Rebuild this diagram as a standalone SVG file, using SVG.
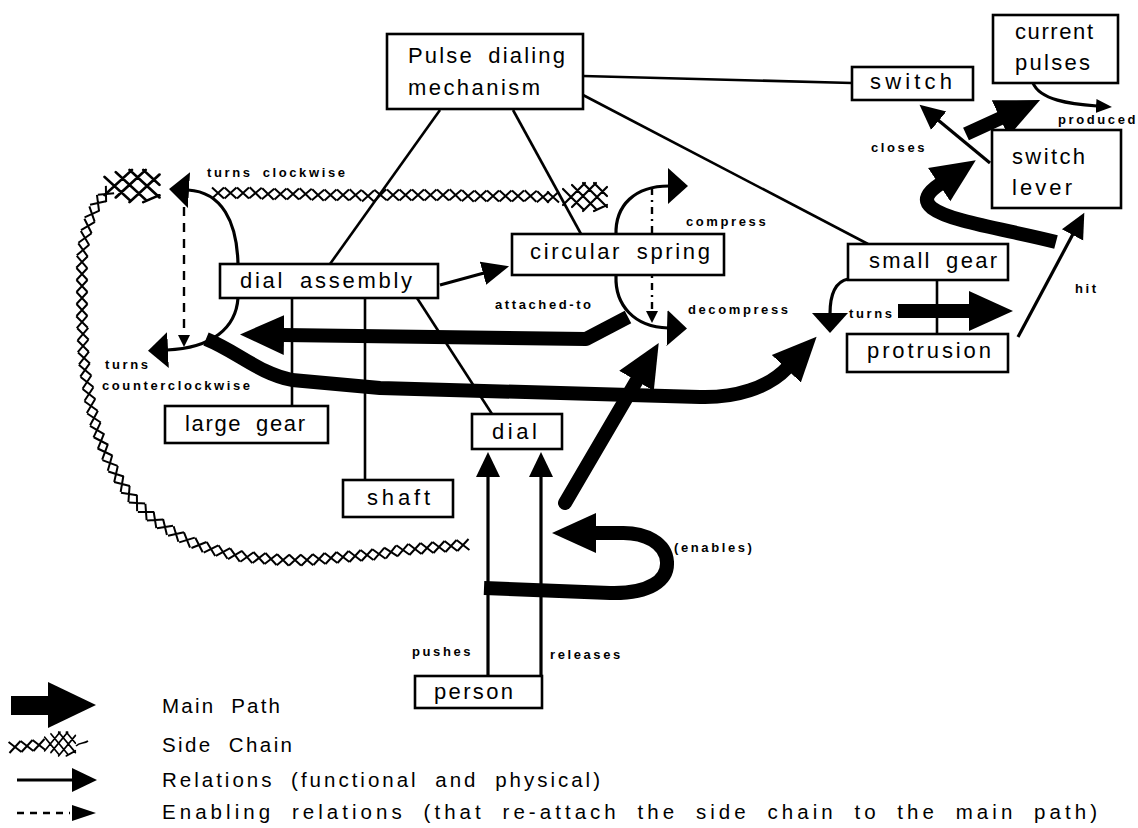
<svg xmlns="http://www.w3.org/2000/svg" xmlns:xlink="http://www.w3.org/1999/xlink" width="1138" height="828" viewBox="0 0 1138 828">
  <style>
    .box { fill: #fff; stroke: #000; stroke-width: 2.6; }
    .lbl { font-family: "Liberation Sans", Arial, sans-serif; font-size: 22px; word-spacing: 6px; fill: #000; }
    .sm { font-family: "Liberation Sans", Arial, sans-serif; font-size: 13px; font-weight: bold; letter-spacing: 2.6px; word-spacing: 4px; fill: #000; }
    .leg { font-family: "Liberation Sans", Arial, sans-serif; font-size: 20.5px; word-spacing: 8px; fill: #000; }
    .link { fill: none; stroke: #000; stroke-width: 2.6; }
    .rel { fill: none; stroke: #000; stroke-width: 3.2; }
    .main { fill: none; stroke: #000; stroke-width: 14; stroke-linejoin: round; }
    .enab { fill: none; stroke: #000; stroke-width: 2.4; }
    .chain { fill: none; stroke: none; }
    .net { fill: none; stroke: #000; stroke-width: 2.2; stroke-linecap: round; }
  </style>
  <defs>
    <marker id="mainHead" markerUnits="userSpaceOnUse" viewBox="0 -21 46 42" markerWidth="46" markerHeight="42" refX="1" refY="0" orient="auto">
      <path d="M0,-20 L44,0 L0,20 z" fill="#000"/>
    </marker>
    <marker id="medHead" markerUnits="userSpaceOnUse" viewBox="0 -13 28 26" markerWidth="28" markerHeight="26" refX="1" refY="0" orient="auto">
      <path d="M0,-12 L27,0 L0,12 z" fill="#000"/>
    </marker>
    <marker id="relHead" markerUnits="userSpaceOnUse" viewBox="0 -13 26 26" markerWidth="26" markerHeight="26" refX="1" refY="0" orient="auto">
      <path d="M0,-12 L25,0 L0,12 z" fill="#000"/>
    </marker>
    <marker id="flatHead" markerUnits="userSpaceOnUse" viewBox="0 -19 21 38" markerWidth="21" markerHeight="38" refX="1" refY="0" orient="auto">
      <path d="M0,-18 L20,0 L0,18 z" fill="#000"/>
    </marker>
    <marker id="smallHead" markerUnits="userSpaceOnUse" viewBox="0 -8 17 16" markerWidth="17" markerHeight="16" refX="1" refY="0" orient="auto">
      <path d="M0,-7 L16,0 L0,7 z" fill="#000"/>
    </marker>
    <marker id="enHead" markerUnits="userSpaceOnUse" viewBox="0 -7 13 14" markerWidth="13" markerHeight="14" refX="1" refY="0" orient="auto">
      <path d="M0,-6 L12,0 L0,6 z" fill="#000"/>
    </marker>
    <!-- one link of the side chain: a small cross placed at every vertex -->
    <marker id="xMark" markerUnits="userSpaceOnUse" viewBox="-8 -7 16 14" markerWidth="16" markerHeight="14" refX="0" refY="0" orient="auto">
      <path d="M-6,-5.5 L6,5.5 M-6,5.5 L6,-5.5" fill="none" stroke="#000" stroke-width="2"/>
    </marker>
    <!-- diamond mesh knot of the side chain -->
    <g id="net" class="net">
      <path d="M0,-14 L-22,8 M11,-14 L-13,10 M22,-10 L-2,14 M22,8 L9,14 M-22,-8 L-2,12 M-13,-12 L11,12 M-2,-14 L22,10 M9,-14 L22,-1"/>
    </g>
  </defs>

  <rect width="1138" height="828" fill="#fff"/>

  <!-- side chain -->
  <g id="side-chain">
    <polyline class="chain" marker-start="url(#xMark)" marker-mid="url(#xMark)" marker-end="url(#xMark)"
      points="218,193 230.5,193 243,193 255.5,193 268,194 280.5,194 293,194 305.5,194 318,195 330.5,195 343,195 355.5,195 368,196 380.5,195 393,195 405.5,195 418,195 430.5,195 443,195 455.5,195 468,196 480.5,196 493,196 505.5,196 518,196 530.5,196 543,197 553,197"/>
    <polyline class="chain" marker-start="url(#xMark)" marker-mid="url(#xMark)" marker-end="url(#xMark)"
      points="463,545 451,546 439,547 427,548 415,549 403,550 391,552 379,554 367,555 355,556 343,557 331,558 319,559 307,560 295,560 283,560 271,559 259,558 247,557 235,555 223,552 211,549 199,545 187,540 176,534 165,527 155,520 146,512 137,503 129,494 122,484 116,474 110,463 105,452 101,441 97,430 94,418 91,406 89,394 87,382 85,370 84,358 83,346 83,334 82,322 82,310 82,298 82,286 82,274 82,262 83,250 85,238 88,226 92,214 98,203 106,194"/>
    <use xlink:href="#net" href="#net" transform="translate(132,186) scale(1.25,1.15)"/>
    <use xlink:href="#net" href="#net" transform="translate(585,197)"/>
  </g>

  <!-- connectors -->
  <g id="connectors">
    <!-- structural links -->
    <path class="link" d="M440,110 L330,264"/>
    <path class="link" d="M513,110 L581,234"/>
    <path class="link" d="M583,76 L852,83"/>
    <path class="link" d="M583,95 L868,244"/>
    <path class="link" d="M292,298 L292,406"/>
    <path class="link" d="M365,298 L365,480"/>
    <path class="link" d="M417,298 L492,414"/>
    <path class="link" d="M937,280 L937,334"/>

    <!-- enabling relations -->
    <path class="enab" d="M184,207 L184,336" stroke-dasharray="9 7" marker-end="url(#enHead)"/>
    <path class="enab" d="M652,188 L652,312" stroke-dasharray="7 5 2 5" marker-end="url(#enHead)"/>

    <!-- functional / physical relations -->
    <path class="rel" d="M238,264 C237,222 222,192 188,190" marker-end="url(#flatHead)"/>
    <path class="rel" d="M238,298 C236,328 212,348 167,350" marker-end="url(#flatHead)"/>
    <path class="rel" d="M616,235 C615,205 635,186 669,186" marker-end="url(#flatHead)"/>
    <path class="rel" d="M616,276 C615,305 634,327 668,328" marker-end="url(#flatHead)"/>
    <path class="rel" d="M848,279 C834,282 830,296 830,314" marker-end="url(#flatHead)"/>
    <path class="rel" d="M990,163 L938,120" marker-end="url(#relHead)"/>
    <path class="rel" d="M1018,337 L1073,234" marker-end="url(#relHead)"/>
    <path class="rel" d="M1033,83 C1040,100 1070,104 1097,106" marker-end="url(#smallHead)"/>
    <path class="rel" d="M488,676 L488,476" stroke-width="3.6" marker-end="url(#relHead)"/>
    <path class="rel" d="M541,676 L541,476" stroke-width="3.6" marker-end="url(#relHead)"/>
    <path class="rel" d="M440,285 L484,273" stroke-width="6" marker-end="url(#medHead)"/>

    <!-- main path -->
    <path class="main" d="M206,339 C238,352 258,373 292,380 L380,388 L700,397 C735,398 768,388 787,368" marker-end="url(#mainHead)"/>
    <path class="main" d="M628,317 L586,339 L283,335" stroke-width="15" marker-end="url(#mainHead)"/>
    <path class="main" d="M565,503 L637,380" stroke-width="15" stroke-linecap="round" marker-end="url(#mainHead)"/>
    <path class="main" d="M484,588 L610,593 C650,594 668,580 667,562 C666,543 645,532 620,533 L595,533" stroke-width="12" marker-end="url(#mainHead)"/>
    <path class="main" d="M898,311 L970,311" stroke-width="13" marker-end="url(#mainHead)"/>
    <path class="main" d="M1056,242 C1010,230 950,222 932,208 C922,200 928,192 940,184" marker-end="url(#mainHead)"/>
    <path class="main" d="M966,134 L1001,118" stroke-width="13" marker-end="url(#mainHead)"/>
  </g>

  <!-- nodes -->
  <g id="pulse-dialing-mechanism">
    <rect class="box" x="387" y="34" width="196" height="75"/>
    <text class="lbl" x="408" y="63" textLength="157" lengthAdjust="spacing">Pulse dialing</text>
    <text class="lbl" x="408" y="95" textLength="132" lengthAdjust="spacing">mechanism</text>
  </g>
  <g id="switch">
    <rect class="box" x="852" y="67" width="121" height="33"/>
    <text class="lbl" x="870" y="89" textLength="82" lengthAdjust="spacing">switch</text>
  </g>
  <g id="current-pulses">
    <rect class="box" x="993" y="15" width="125" height="68"/>
    <text class="lbl" x="1015" y="39" textLength="78" lengthAdjust="spacing">current</text>
    <text class="lbl" x="1015" y="70" textLength="75" lengthAdjust="spacing">pulses</text>
  </g>
  <g id="switch-lever">
    <rect class="box" x="992" y="130" width="129" height="78"/>
    <text class="lbl" x="1012" y="164" textLength="73" lengthAdjust="spacing">switch</text>
    <text class="lbl" x="1012" y="195" textLength="60" lengthAdjust="spacing">lever</text>
  </g>
  <g id="small-gear">
    <rect class="box" x="848" y="244" width="160" height="36"/>
    <text class="lbl" x="869" y="268" textLength="128" lengthAdjust="spacing">small gear</text>
  </g>
  <g id="protrusion">
    <rect class="box" x="847" y="334" width="161" height="38"/>
    <text class="lbl" x="867" y="358" textLength="124" lengthAdjust="spacing">protrusion</text>
  </g>
  <g id="circular-spring">
    <rect class="box" x="512" y="234" width="212" height="41"/>
    <text class="lbl" x="530" y="259" textLength="180" lengthAdjust="spacing">circular spring</text>
  </g>
  <g id="dial-assembly">
    <rect class="box" x="220" y="264" width="218" height="34"/>
    <text class="lbl" x="240" y="288" textLength="172" lengthAdjust="spacing">dial assembly</text>
  </g>
  <g id="large-gear">
    <rect class="box" x="165" y="406" width="163" height="37"/>
    <text class="lbl" x="185" y="431" textLength="120" lengthAdjust="spacing">large gear</text>
  </g>
  <g id="shaft">
    <rect class="box" x="343" y="480" width="110" height="37"/>
    <text class="lbl" x="367" y="505" textLength="63" lengthAdjust="spacing">shaft</text>
  </g>
  <g id="dial">
    <rect class="box" x="472" y="414" width="90" height="35"/>
    <text class="lbl" x="492" y="439" textLength="45" lengthAdjust="spacing">dial</text>
  </g>
  <g id="person">
    <rect class="box" x="415" y="676" width="127" height="32"/>
    <text class="lbl" x="434" y="699" textLength="79" lengthAdjust="spacing">person</text>
  </g>

  <!-- relation labels -->
  <g id="relation-labels">
    <text class="sm" x="207" y="177">turns clockwise</text>
    <text class="sm" x="105" y="369">turns</text>
    <text class="sm" x="102" y="390">counterclockwise</text>
    <text class="sm" x="686" y="226">compress</text>
    <text class="sm" x="688" y="314">decompress</text>
    <text class="sm" x="495" y="309">attached-to</text>
    <text class="sm" x="849" y="318">turns</text>
    <text class="sm" x="871" y="152">closes</text>
    <text class="sm" x="1058" y="124">produced</text>
    <text class="sm" x="1075" y="293">hit</text>
    <text class="sm" x="674" y="552">(enables)</text>
    <text class="sm" x="412" y="656">pushes</text>
    <text class="sm" x="550" y="659">releases</text>
  </g>

  <!-- legend -->
  <g id="legend">
    <rect x="11" y="696" width="40" height="19" fill="#000"/>
    <path d="M48,682 L96,705 L48,728 z" fill="#000"/>
    <text class="leg" x="162" y="713" textLength="118" lengthAdjust="spacing">Main Path</text>

    <polyline class="chain" marker-start="url(#xMark)" marker-mid="url(#xMark)" marker-end="url(#xMark)" points="15,747 27,746 39,745"/>
    <use xlink:href="#net" href="#net" transform="translate(60,744) scale(0.7,0.85)"/>
    <path d="M76,746 C80,742 84,744 88,741" fill="none" stroke="#000" stroke-width="1.6"/>
    <text class="leg" x="162" y="752" textLength="130" lengthAdjust="spacing">Side Chain</text>

    <path class="rel" d="M17,780 L73,780" stroke-width="4" marker-end="url(#relHead)"/>
    <text class="leg" x="162" y="787" textLength="438" lengthAdjust="spacing">Relations (functional and physical)</text>

    <path d="M17,813 L70,813" fill="none" stroke="#000" stroke-width="2.4" stroke-dasharray="7 6"/>
    <path d="M72,805 L96,813 L72,821 z" fill="#000"/>
    <text class="leg" x="162" y="819" textLength="935" lengthAdjust="spacing">Enabling relations (that re-attach the side chain to the main path)</text>
  </g>
</svg>
